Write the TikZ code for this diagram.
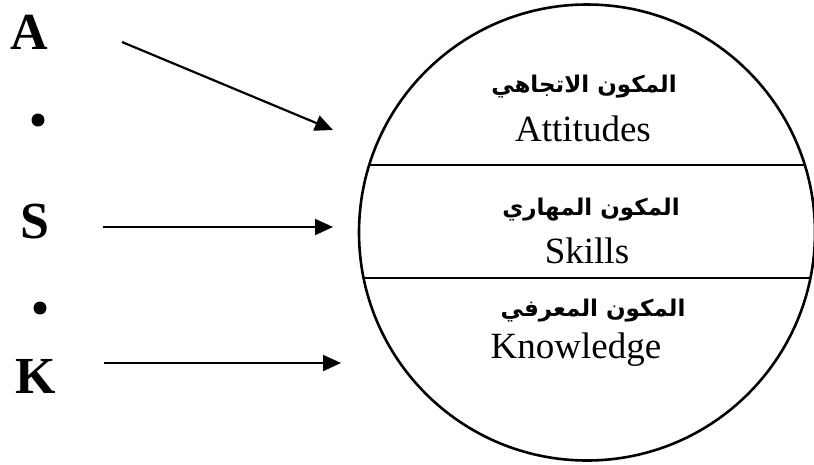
\documentclass[tikz,border=0pt]{standalone}
\usepackage{fontspec}
\setmainfont{Liberation Serif}
\newfontfamily\arabicfont[Script=Arabic]{DejaVu Sans}
\TeXXeTstate=1
\usetikzlibrary{arrows.meta}
\begin{document}
\begin{tikzpicture}[x=1pt,y=-1pt,
  letter/.style={font=\fontsize{52}{52}\selectfont\bfseries, inner sep=0pt},
  dotmark/.style={circle, fill=black, minimum size=13pt, inner sep=0pt},
  artext/.style={font=\arabicfont\bfseries\fontsize{23}{26}\selectfont, inner sep=0pt},
  entext/.style={font=\fontsize{37}{42}\selectfont, inner sep=0pt},
  arr/.style={line width=2.2pt, -{Triangle[length=18pt,width=16pt]}}]
\useasboundingbox (0,0) rectangle (814,464);
% left letters
\node[letter] (A) at (29,32) {A};
\node[dotmark] (d1) at (38,120) {};
\node[letter] (S) at (35,222) {S};
\node[dotmark] (d2) at (40,308) {};
\node[letter] (K) at (36,376) {K};
% circle
\node[circle, draw, line width=2.6pt, minimum size=456pt, inner sep=0pt] (C) at (587,232.5) {};
\begin{scope}
  \clip (587,232.5) circle (228pt);
  \draw[line width=2.4pt] (340,165) -- (830,165);
  \draw[line width=2.4pt] (340,278) -- (830,278);
\end{scope}
% texts
\node[artext] (ar1) at (584,87) {\beginR المكون الاتجاهي\endR};
\node[entext, anchor=base] (en1) at (583,141) {Attitudes};
\node[artext] (ar2) at (591,210) {\beginR المكون المهاري\endR};
\node[entext, anchor=base] (en2) at (587,263) {Skills};
\node[artext] (ar3) at (593,311) {\beginR المكون المعرفي\endR};
\node[entext, anchor=base] (en3) at (576,358) {Knowledge};
% arrows
\coordinate (a0) at (122,42);
\coordinate (a1) at (333,130);
\coordinate (s0) at (103,227);
\coordinate (s1) at (333,227);
\coordinate (k0) at (104,363);
\coordinate (k1) at (341,363);
\draw[arr] (a0) -- (a1);
\draw[arr] (s0) -- (s1);
\draw[arr] (k0) -- (k1);
\end{tikzpicture}
\end{document}
